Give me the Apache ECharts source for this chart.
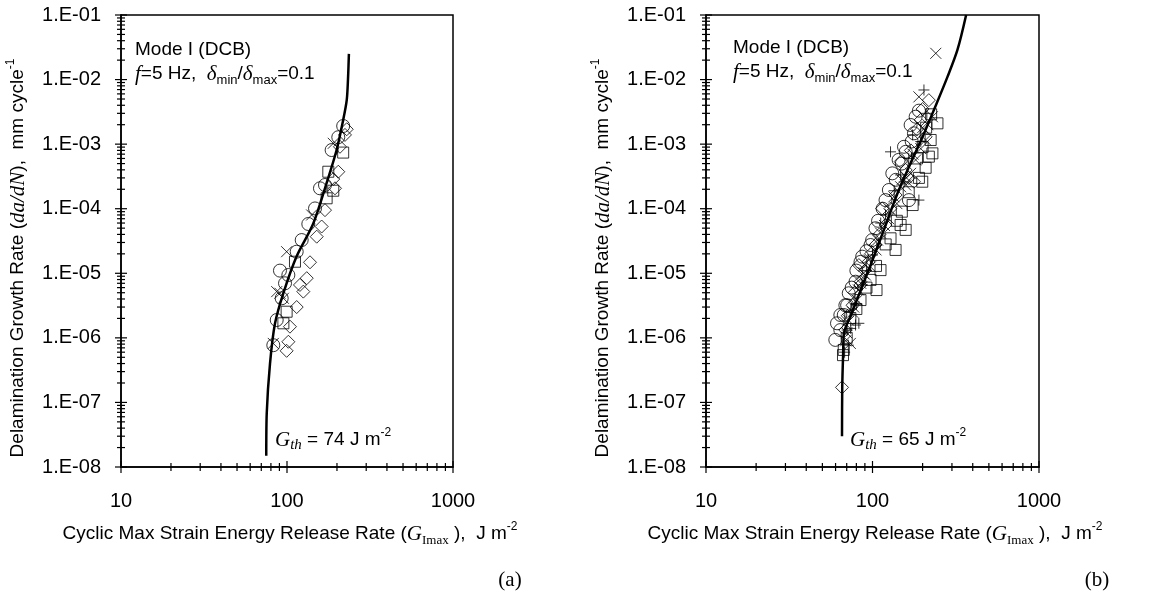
<!DOCTYPE html>
<html><head><meta charset="utf-8">
<script src="https://cdn.jsdelivr.net/npm/echarts@6/dist/echarts.min.js"></script>
<style>html,body{margin:0;padding:0;background:#fff}#c{width:1152px;height:600px}</style>
</head><body><div id="c"></div>
<script>
// ---- tick labels ----
const xTickLabels = ['10', '100', '1000'];
const yTickLabels = ['1.E-08','1.E-07','1.E-06','1.E-05','1.E-04','1.E-03','1.E-02','1.E-01'];
const xMajorTicks = [10, 100, 1000];
const yMajorTicks = [1e-8, 1e-7, 1e-6, 1e-5, 1e-4, 1e-3, 1e-2, 1e-1];
const minorMultipliers = [2, 3, 4, 5, 6, 7, 8, 9];
const xMinorDecades = [10, 100];
const yMinorDecades = [1e-8, 1e-7, 1e-6, 1e-5, 1e-4, 1e-3, 1e-2];

// ---- panel (a) ----
const leftCurve = [[75,1.5e-8],[75.5,6.8e-8],[79,4.0e-7],[84.7,1.68e-6],[95,4.9e-6],[114,1.81e-5],[144,5.9e-5],[173,2.47e-4],[199,8.1e-4],[218,2.37e-3],[229,4.8e-3],[233,1.0e-2],[236,2.5e-2]];
const leftCircles = [[218,1.91e-3],[203.7,1.28e-3],[185.7,8.1e-4],[158,2.07e-4],[169.4,2.33e-4],[147.5,1.01e-4],[134.4,5.8e-5],[122.6,3.27e-5],[114.4,2.16e-5],[90.7,1.10e-5],[97.3,7.0e-6],[101.9,9.4e-6],[92.9,4.1e-6],[86.7,1.89e-6],[82.7,7.7e-7]];
const leftDiamonds = [[229,1.70e-3],[223.5,1.39e-3],[208.5,9.1e-4],[203.7,3.74e-4],[190,2.88e-4],[194.6,2.07e-4],[169.4,9.5e-5],[161.7,5.3e-5],[151,3.69e-5],[137.6,1.48e-5],[131.5,8.4e-6],[125.4,5.2e-6],[119.7,6.6e-6],[114.4,3.0e-6],[104.2,1.49e-6],[101.9,8.7e-7],[99.5,6.3e-7]];
const leftSquares = [[218,7.4e-4],[177.4,3.74e-4],[190,1.90e-4],[173.3,1.45e-4],[111.7,1.51e-5],[99.5,2.54e-6],[95.1,1.68e-6]];
const leftCrosses = [[190,1.03e-3],[140.8,8.0e-5],[99.5,2.16e-5],[86.7,5.2e-6],[95.1,4.1e-6],[90.7,4.9e-6],[82.7,8.2e-7]];

// ---- panel (b) ----
const rightCurve = [[65.6,3.0e-8],[65.8,1.7e-7],[66.6,5.4e-7],[67.5,1.2e-6],[74,2.2e-6],[81,4.0e-6],[90,8.0e-6],[100,1.6e-5],[117,4.7e-5],[141,1.7e-4],[169,5.0e-4],[200,1.3e-3],[234,3.4e-3],[282,1.1e-2],[324,2.9e-2],[365,1.0e-1]];
const rightCircles = [[158.2,7.6e-4],[131.5,3.53e-4],[125.4,1.95e-4],[165.5,1.36e-4],[104.2,4.98e-5],[99.5,3.27e-5],[86.7,1.81e-5],[79.1,7.4e-6],[72.0,4.9e-6],[70.4,3.2e-6],[64.1,2.26e-6],[68.7,3.2e-6],[61.2,1.68e-6],[59.8,9.3e-7],[67.2,2.26e-6],[181.6,2.66e-3],[177.4,1.47e-3],[154.6,9.1e-4],[169.4,1.98e-3],[143.5,5.7e-4],[119.7,1.36e-4],[97.3,2.74e-5],[84.7,1.50e-5],[64.1,1.32e-6],
  [190,3.3e-3],[172,1.1e-3],[150,5.0e-4],[138,2.8e-4],[115,1.0e-4],[108,6.5e-5],[92,2.2e-5],[80,1.1e-5],[75,6.0e-6]];
const rightDiamonds = [[147.5,5.35e-4],[177.4,2.62e-4],[114.4,1.01e-4],[82.8,1.34e-5],[84.7,7.4e-6],[65.6,1.71e-7],[218,4.8e-3],[208.5,1.30e-3],[194.6,2.37e-3],[158.2,3.98e-4],[137.6,1.63e-4],[119.7,5.6e-5],[104.2,2.74e-5],[94.6,1.50e-5],[84.7,6.6e-6],[75.9,3.2e-6],[68.7,1.32e-6],
  [200,3.5e-3],[185,1.7e-3],[170,8.0e-4],[165,3.0e-4],[128,1.0e-4],[110,4.0e-5],[98,2.0e-5],[90,1.1e-5],[78,5.0e-6],[71,2.2e-6]];
const rightSquares = [[218,6.4e-4],[199,2.62e-4],[147.5,5.6e-5],[128.3,3.48e-5],[97.3,7.9e-6],[66.5,5.4e-7],[67.2,6.5e-7],[245.5,2.1e-3],[229,7.2e-4],[174.2,1.14e-4],[158.2,4.7e-5],[137.6,2.3e-5],[111.7,1.12e-5],[105.7,5.5e-6],[84.7,3.85e-6],[73.6,2.03e-6],[208.5,4.3e-4],[223.5,1.16e-3],
  [225,2.9e-3],[210,1.8e-3],[200,9.0e-4],[185,6.0e-4],[190,3.0e-4],[165,1.8e-4],[150,9.0e-5],[140,6.5e-5],[120,2.8e-5],[105,1.3e-5],[92,6.0e-6],[80,2.8e-6],[70,1.0e-6]];
const rightCrosses = [[169.4,3.53e-4],[147.5,2.19e-4],[134.4,1.53e-4],[111.7,4.2e-5],[97.3,1.26e-5],[80.9,3.85e-6],[73.6,8.2e-7],[77.1,3.0e-6],[239.9,2.55e-2],[190,5.4e-3],[229,2.66e-3],[208.5,1.16e-3],[181.6,5.7e-4],[158.2,2.33e-4],[128.3,9.5e-5],[107.2,3.27e-5],[90.7,9.4e-6],[82.4,5.5e-6],[71.6,1.89e-6],
  [200,1.8e-3],[215,2.0e-3],[195,8.5e-4],[175,7.0e-4],[160,3.0e-4],[150,2.8e-4],[140,1.2e-4],[125,7.0e-5],[118,5.5e-5],[105,2.3e-5],[95,1.6e-5],[88,1.0e-5],[85,7.0e-6],[76,2.5e-6],[70,1.2e-6],[69,9.0e-7]];
const rightPluses = [[190,1.36e-4],[128.3,7.6e-4],[82.8,1.68e-6],[70.4,1.32e-6],[203.7,6.9e-3],[174.2,1.39e-3],[147.5,3.33e-4],[119.7,8.0e-5],[100,1.92e-5],[87.1,6.6e-6],[79.1,1.58e-6],[71.6,7.7e-7],
  [212,3.0e-3],[195,1.1e-3],[165,6.0e-4],[155,2.6e-4],[135,1.9e-4],[112,6.0e-5],[92,1.1e-5],[80,3.3e-6],[74,1.4e-6],[68,6.0e-7]];

// ---- build ----
const chart = echarts.init(document.getElementById('c'), null, {renderer: 'canvas'});
const SANS = 'Liberation Sans, Arial, sans-serif';
const SERIF = 'Liberation Serif, DejaVu Serif, serif';

function tickData() {
  const d = [];
  yMajorTicks.forEach(v => d.push([10, v, 0, 6]));
  yMinorDecades.forEach(dec => minorMultipliers.forEach(m => d.push([10, m * dec, 0, 4])));
  xMajorTicks.forEach(v => d.push([v, 1e-8, 1, 6]));
  xMinorDecades.forEach(dec => minorMultipliers.forEach(m => d.push([m * dec, 1e-8, 1, 4])));
  return d;
}

const CROSS = 'path://M0,0L10,10M10,0L0,10';
const PLUS = 'path://M5,0L5,10M0,5L10,5';
const markStyle = {color: 'transparent', borderColor: '#000', borderWidth: 1};

function panelSeries(idx, curve, groups) {
  const s = [];
  s.push({type: 'line', xAxisIndex: idx, yAxisIndex: idx, data: curve, showSymbol: false, symbol: 'none',
    smooth: 0.3, lineStyle: {color: '#000', width: 2.5}, silent: true, z: 3});
  groups.forEach(g => s.push({type: 'scatter', xAxisIndex: idx, yAxisIndex: idx, data: g.data,
    symbol: g.symbol, symbolSize: g.size, itemStyle: markStyle, silent: true, z: 2}));
  s.push({type: 'custom', xAxisIndex: idx, yAxisIndex: idx, data: tickData(), clip: false, silent: true, z: 5,
    renderItem: function (params, api) {
      const p = api.coord([api.value(0), api.value(1)]);
      const len = api.value(3);
      const shape = api.value(2) === 0
        ? {x1: p[0] - len, y1: p[1], x2: p[0] + len, y2: p[1]}
        : {x1: p[0], y1: p[1] - len, x2: p[0], y2: p[1] + len};
      return {type: 'line', shape: shape, style: {stroke: '#000', lineWidth: 1.2}};
    }});
  return s;
}

function xAxisFor(idx) {
  return {type: 'log', gridIndex: idx, logBase: 10, min: 10, max: 1000, interval: 1,
    axisLine: {show: true, lineStyle: {color: '#000', width: 1.5}}, axisTick: {show: false},
    splitLine: {show: false}, minorTick: {show: false},
    axisLabel: {color: '#000', fontSize: 20, fontFamily: SANS, margin: 24,
      formatter: v => xTickLabels[Math.round(Math.log10(v)) - 1]}};
}
function yAxisFor(idx) {
  return {type: 'log', gridIndex: idx, logBase: 10, min: 1e-8, max: 1e-1, interval: 1,
    axisLine: {show: true, lineStyle: {color: '#000', width: 1.5}}, axisTick: {show: false},
    splitLine: {show: false},
    axisLabel: {color: '#000', fontSize: 20, fontFamily: SANS, margin: 20,
      formatter: v => yTickLabels[Math.round(Math.log10(v)) + 8]}};
}

const R = {
  t: {fontFamily: SANS, fontSize: 19, fill: '#000', lineHeight: 26},
  i: {fontFamily: SERIF, fontStyle: 'italic', fontSize: 21, fill: '#000', lineHeight: 26},
  sup: {fontFamily: SANS, fontSize: 12, fill: '#000', lineHeight: 14, verticalAlign: 'top'},
  sub: {fontFamily: SANS, fontSize: 13, fill: '#000', lineHeight: 14, verticalAlign: 'bottom'},
  ssub: {fontFamily: SERIF, fontSize: 13, fill: '#000', lineHeight: 14, verticalAlign: 'bottom'},
  isub: {fontFamily: SERIF, fontStyle: 'italic', fontSize: 15, fill: '#000', lineHeight: 16, verticalAlign: 'bottom'},
  p: {fontFamily: SERIF, fontSize: 21, fill: '#000', lineHeight: 26}
};
function txt(x, y, text, align, rot) {
  const e = {type: 'text', x: x, y: y, silent: true, z: 10,
    style: {text: text, rich: R, align: align || 'left', verticalAlign: 'middle'}};
  if (rot) e.rotation = rot;
  return e;
}
const yTitle = '{t|Delamination Growth Rate (}{i|da/dN}{t|),  mm cycle}{sup|-1}';
const xTitle = '{t|Cyclic Max Strain Energy Release Rate (}{i|G}{ssub|Imax}{t| ),  J m}{sup|-2}';
const ann1 = '{t|Mode I (DCB)}';
const ann2 = '{i|f}{t|=5 Hz,  }{i|δ}{sub|min}{t|/}{i|δ}{sub|max}{t|=0.1}';
const gthA = '{i|G}{isub|th}{t| = 74 J m}{sup|-2}';
const gthB = '{i|G}{isub|th}{t| = 65 J m}{sup|-2}';

const option = {
  animation: false,
  backgroundColor: '#fff',
  grid: [
    {left: 121, right: 699, top: 15, bottom: 133, show: true, borderColor: '#000', borderWidth: 1.5, backgroundColor: 'transparent'},
    {left: 706, right: 113, top: 15, bottom: 133, show: true, borderColor: '#000', borderWidth: 1.5, backgroundColor: 'transparent'}
  ],
  xAxis: [xAxisFor(0), xAxisFor(1)],
  yAxis: [yAxisFor(0), yAxisFor(1)],
  series: [].concat(
    panelSeries(0, leftCurve, [
      {data: leftDiamonds, symbol: 'diamond', size: 13},
      {data: leftSquares, symbol: 'rect', size: 11},
      {data: leftCircles, symbol: 'circle', size: 13},
      {data: leftCrosses, symbol: CROSS, size: 11}
    ]),
    panelSeries(1, rightCurve, [
      {data: rightDiamonds, symbol: 'diamond', size: 13},
      {data: rightSquares, symbol: 'rect', size: 11},
      {data: rightCircles, symbol: 'circle', size: 13},
      {data: rightCrosses, symbol: CROSS, size: 11},
      {data: rightPluses, symbol: PLUS, size: 11}
    ])
  ),
  graphic: [
    txt(135, 50, ann1), txt(135, 74, ann2),
    txt(733, 48, ann1), txt(733, 72, ann2),
    txt(275, 440, gthA), txt(850, 440, gthB),
    txt(18, 258, yTitle, 'center', Math.PI / 2),
    txt(603, 258, yTitle, 'center', Math.PI / 2),
    txt(290, 534, xTitle, 'center'),
    txt(875, 534, xTitle, 'center'),
    txt(510, 580, '{p|(a)}', 'center'),
    txt(1097, 580, '{p|(b)}', 'center')
  ]
};
chart.setOption(option);
</script>
</body></html>
